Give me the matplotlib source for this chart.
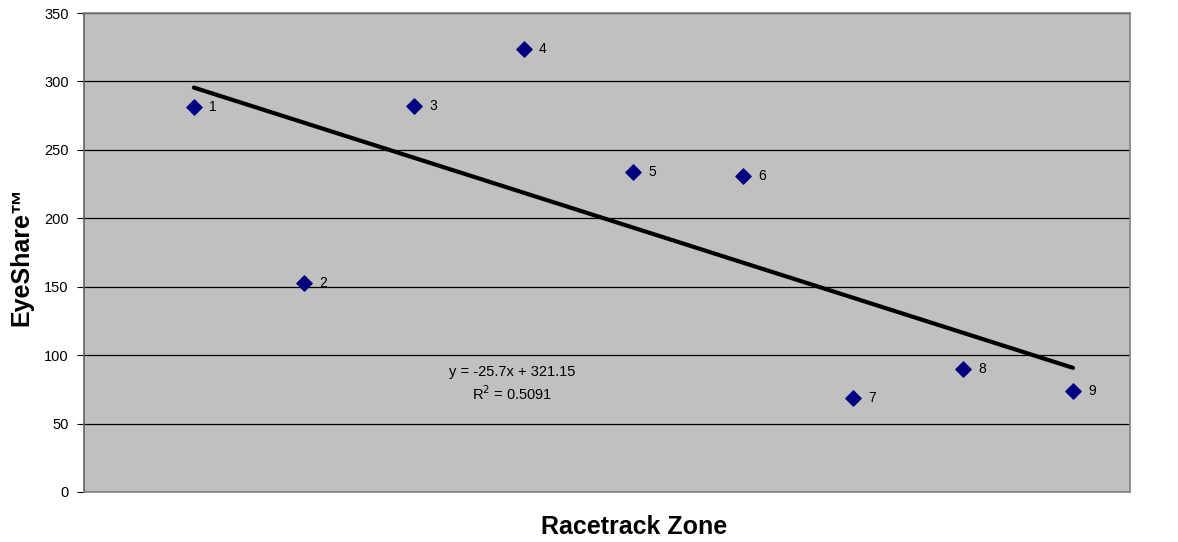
import matplotlib.pyplot as plt
import numpy as np

zones = [1, 2, 3, 4, 5, 6, 7, 8, 9]
eyeshare = [281, 153, 282, 324, 234, 231, 69, 90, 74]
point_labels = ['1', '2', '3', '4', '5', '6', '7', '8', '9']
eq_text = 'y = -25.7x + 321.15'
r2_text = 'R$^2$ = 0.5091'

plt.rcParams['font.family'] = ['Liberation Sans', 'DejaVu Sans']

fig = plt.figure(figsize=(11.78, 5.42), dpi=100)
ax = fig.add_axes([0.0713, 0.0923, 0.888, 0.8837])
ax.set_facecolor('#C0C0C0')

x = np.array(zones)
y = np.array(eyeshare)
ax.scatter(x, y, marker='D', s=60, color='#000080', zorder=3)
for xi, yi, lab in zip(x, y, point_labels):
    ax.annotate(lab, (xi, yi), xytext=(11, 0), textcoords='offset points',
                va='center', ha='left', fontsize=10)

# linear trendline
k, b = np.polyfit(x, y, 1)
ax.plot([x[0], x[-1]], [k * x[0] + b, k * x[-1] + b], color='black', lw=3,
        solid_capstyle='round', zorder=2)

ax.text(0.409, 0.251, eq_text, transform=ax.transAxes, ha='center', va='center',
        fontsize=10.5)
ax.text(0.409, 0.205, r2_text, transform=ax.transAxes, ha='center', va='center',
        fontsize=10.5)

ax.set_xlim(0, 9.52)
ax.set_ylim(0, 350)
ax.set_yticks(np.arange(0, 351, 50))
ax.set_xticks([])
ax.yaxis.grid(True, color='black', lw=0.9)
ax.set_axisbelow(True)
ax.tick_params(axis='y', direction='out', length=5, labelsize=10.5, pad=6)
ax.spines['left'].set_color('#606060')
ax.spines['left'].set_linewidth(1.2)
for s in ['top', 'right', 'bottom']:
    ax.spines[s].set_color('#808080')
    ax.spines[s].set_linewidth(1.2)

fig.text(0.0178, 0.526, 'EyeShare™', rotation=90, ha='center', va='center',
         fontsize=18, fontweight='bold')
fig.text(0.538, 0.028, 'Racetrack Zone', ha='center', va='center',
         fontsize=18, fontweight='bold')

plt.savefig('out.png', dpi=100)
